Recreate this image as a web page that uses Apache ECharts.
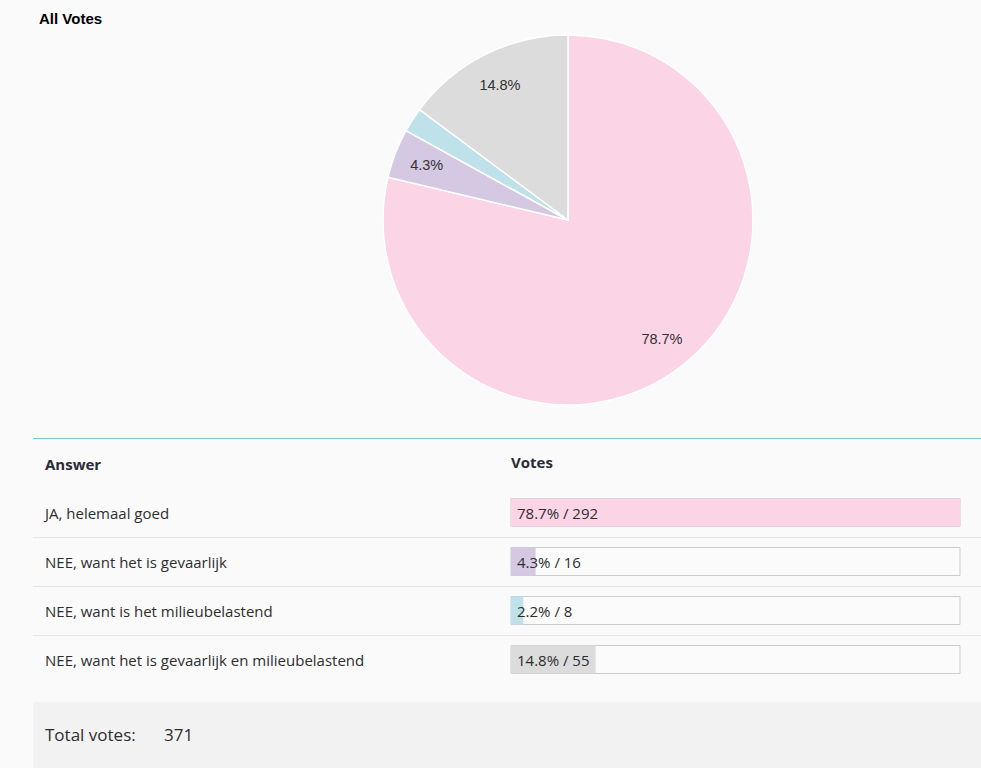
<!DOCTYPE html>
<html>
<head>
<meta charset="utf-8">
<title>All Votes</title>
<script src="https://cdn.jsdelivr.net/npm/echarts@6/dist/echarts.min.js"></script>
<style>
  html, body { margin: 0; padding: 0; background: #fafafa; }
  #chart { width: 981px; height: 768px; }
</style>
</head>
<body>
<div id="chart"></div>
<script>
"use strict";

const TITLE = "All Votes";
const HEADER_ANSWER = "Answer";
const HEADER_VOTES = "Votes";
const TOTAL_LABEL = "Total votes:";
const answers = [
  "JA, helemaal goed",
  "NEE, want het is gevaarlijk",
  "NEE, want is het milieubelastend",
  "NEE, want het is gevaarlijk en milieubelastend"
];
const votes = [292, 16, 8, 55];
const colors = ["#fbd4e6", "#d4c8e3", "#bfe2ea", "#dcdcdc"];

const total = votes.reduce((a, b) => a + b, 0);
const pctOf = v => (v / total * 100).toFixed(1) + "%";
const TABLE_FONT = "'Open Sans', 'Noto Sans', sans-serif";
const PIE_FONT = "'Liberation Sans', Arial, sans-serif";
const BG = "#fafafa";
const ROW_LINE = "#e6e6e6";
const TOP_RULE = "#7cc2d1";

const pieData = answers.map((a, i) => ({ name: a, value: votes[i], itemStyle: { color: colors[i] } }));

const chart = echarts.init(document.getElementById("chart"), null, { renderer: "svg" });
chart.setOption({
  animation: false,
  backgroundColor: BG,
  title: {
    text: TITLE, left: 34, top: 6,
    textStyle: { fontFamily: PIE_FONT, fontSize: 15, fontWeight: "bold", color: "#000" }
  },
  grid: [
    // bars
    { left: 511, right: 21, top: 488, height: 196 },
    // table rows (header + answers)
    { left: 33, right: 0, top: 439, height: 245 }
  ],
  xAxis: [
    { gridIndex: 0, type: "value", min: 0, max: Math.max(...votes), show: false },
    { gridIndex: 1, type: "value", min: 0, max: 1, show: false }
  ],
  yAxis: [
    { gridIndex: 0, type: "category", data: answers, inverse: true, show: false },
    { gridIndex: 1, type: "category", data: [HEADER_ANSWER].concat(answers), inverse: true,
      axisLine: { show: false }, axisTick: { show: false },
      axisLabel: {
        align: "left", margin: -12,
        fontFamily: TABLE_FONT, fontSize: 15, color: "#2e2e2e",
        formatter: (v, i) => i === 0 ? "{h|" + v + "}" : v,
        rich: { h: { fontFamily: TABLE_FONT, fontSize: 15, fontWeight: "bold", color: "#2b2b38" } }
      },
      splitLine: {
        show: true,
        // three row separators; the bottom edge line is hidden
        interval: (i) => i >= 2 && i <= 4,
        lineStyle: { color: [ROW_LINE, ROW_LINE, ROW_LINE, BG], width: 1 }
      }
    }
  ],
  series: [
    {
      type: "pie", center: [568, 220], radius: 185, silent: true,
      itemStyle: { borderColor: "#ffffff", borderWidth: 1.5 },
      label: { show: false }, labelLine: { show: false },
      data: pieData
    },
    {
      // transparent ring that only carries the percentage labels
      type: "pie", center: [568, 220], radius: [112, 185], silent: true,
      minShowLabelAngle: 10,
      itemStyle: { color: "rgba(0,0,0,0)", borderWidth: 0 },
      label: {
        show: true, position: "inside",
        formatter: p => pctOf(p.value),
        fontFamily: PIE_FONT, fontSize: 14.5, color: "#333"
      },
      labelLine: { show: false },
      data: answers.map((a, i) => ({ name: a, value: votes[i] }))
    },
    {
      type: "bar", xAxisIndex: 0, yAxisIndex: 0, barWidth: 28, silent: true,
      showBackground: true,
      backgroundStyle: { color: "#fbfbfb", borderColor: "#cccccc", borderWidth: 1 },
      data: votes.map((v, i) => ({ value: v, itemStyle: { color: colors[i] } })),
      label: {
        show: true, position: "insideLeft", distance: 6,
        formatter: p => pctOf(p.value) + " / " + p.value,
        fontFamily: TABLE_FONT, fontSize: 15, color: "#2e2e2e"
      }
    }
  ],
  graphic: [
    // teal rule above the table
    { type: "rect", left: 33, top: 438, shape: { width: 948, height: 1 },
      style: { fill: TOP_RULE } },
    { type: "text", left: 511, top: 454,
      style: { text: HEADER_VOTES, font: "bold 15px " + TABLE_FONT, fill: "#2b2b38" } },
    { type: "rect", left: 33, top: 702, shape: { width: 948, height: 66 },
      style: { fill: "#f2f2f2" } },
    { type: "text", left: 45, top: 726,
      style: { text: TOTAL_LABEL, font: "17px " + TABLE_FONT, fill: "#2e2e2e" } },
    { type: "text", left: 164, top: 726,
      style: { text: String(total), font: "17px " + TABLE_FONT, fill: "#2e2e2e" } }
  ]
});
</script>
</body>
</html>
